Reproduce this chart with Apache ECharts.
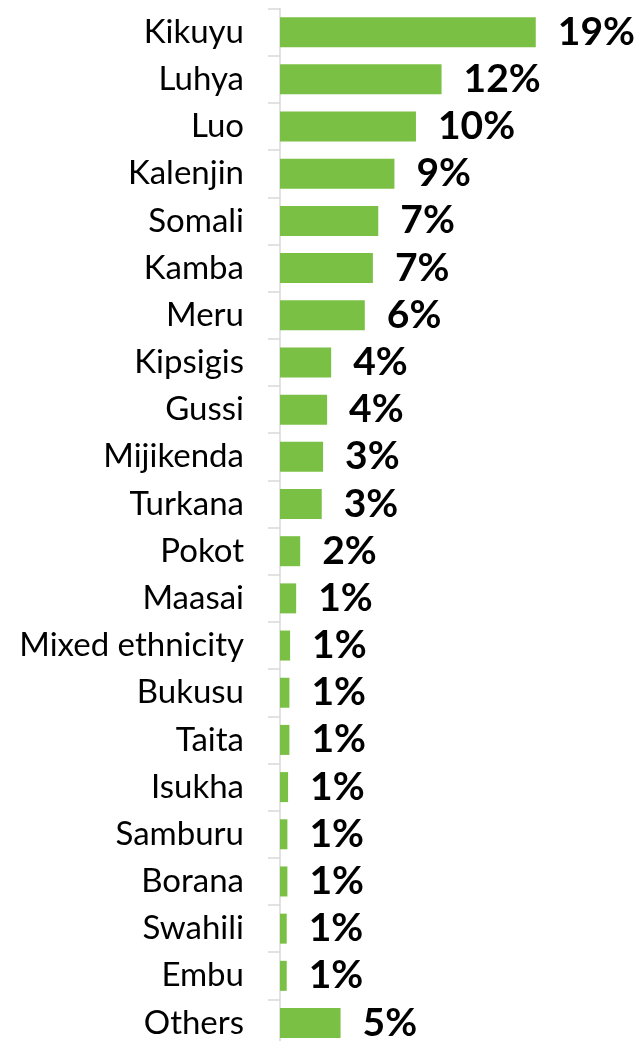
<!DOCTYPE html>
<html>
<head>
<meta charset="utf-8">
<script src="https://cdn.jsdelivr.net/npm/echarts@6/dist/echarts.min.js"></script>
<style>
  html, body { margin: 0; padding: 0; background: #ffffff; overflow: hidden; }
  /* the chart is a little taller than the page so the last band runs off the bottom edge */
  #chart { width: 636px; height: 1048px; }
</style>
</head>
<body>
<div id="chart"></div>
<script>
// Share of respondents by ethnic group (%)
const groups = [
  'Kikuyu', 'Luhya', 'Luo', 'Kalenjin', 'Somali', 'Kamba', 'Meru',
  'Kipsigis', 'Gussi', 'Mijikenda', 'Turkana', 'Pokot', 'Maasai',
  'Mixed ethnicity', 'Bukusu', 'Taita', 'Isukha', 'Samburu', 'Borana',
  'Swahili', 'Embu', 'Others'
];
const shares = [
  19, 12, 10.1, 8.5, 7.3, 6.9, 6.3,
  3.8, 3.5, 3.2, 3.1, 1.5, 1.2,
  0.75, 0.7, 0.7, 0.6, 0.55, 0.55,
  0.5, 0.5, 4.5
];

const chart = echarts.init(document.getElementById('chart'), null, { renderer: 'canvas' });

chart.setOption({
  animation: false,
  backgroundColor: '#ffffff',
  grid: { left: 280, right: 6, top: 8.6, bottom: 1.4, containLabel: false },
  xAxis: {
    type: 'value',
    min: 0,
    max: 26,
    show: false
  },
  yAxis: {
    type: 'category',
    data: groups,
    inverse: true,
    axisLine: { show: true, lineStyle: { color: '#d9d9d9', width: 1.5 } },
    axisTick: { show: true, length: 12, lineStyle: { color: '#d9d9d9', width: 1.5 } },
    axisLabel: {
      margin: 36,
      color: '#000000',
      fontFamily: 'Lato, "Open Sans", sans-serif',
      fontSize: 33
    },
    splitLine: { show: false }
  },
  series: [{
    type: 'bar',
    data: shares,
    barWidth: 30,
    itemStyle: { color: '#7AC045' },
    label: {
      show: true,
      position: 'right',
      distance: 22,
      color: '#000000',
      fontFamily: 'Lato, "Open Sans", sans-serif',
      fontWeight: 'bold',
      fontSize: 39,
      formatter: p => Math.round(p.value) + '%'
    }
  }]
});
</script>
</body>
</html>
